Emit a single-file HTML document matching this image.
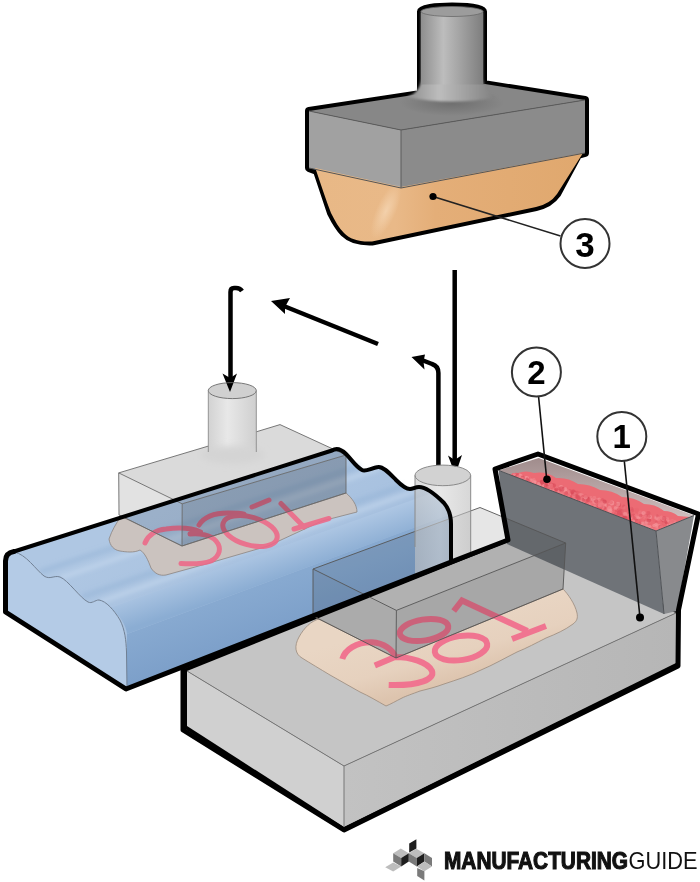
<!DOCTYPE html>
<html><head><meta charset="utf-8">
<style>
html,body{margin:0;padding:0;background:#fff;}
body{width:700px;height:882px;overflow:hidden;}
svg{display:block;}
</style></head>
<body>
<svg width="700" height="882" viewBox="0 0 700 882">
<defs>
  <linearGradient id="cylG" x1="0" x2="1" y1="0" y2="0">
    <stop offset="0" stop-color="#8e8e8e"/>
    <stop offset="0.36" stop-color="#bdbdbd"/>
    <stop offset="0.6" stop-color="#a6a6a6"/>
    <stop offset="1" stop-color="#7e7e7e"/>
  </linearGradient>
  <linearGradient id="orG" x1="0" x2="1" y1="0" y2="0">
    <stop offset="0" stop-color="#e8b886"/>
    <stop offset="0.3" stop-color="#e9b988"/>
    <stop offset="0.45" stop-color="#e4ae78"/>
    <stop offset="1" stop-color="#e0a86e"/>
  </linearGradient>
  <linearGradient id="gcylG" x1="0" x2="1" y1="0" y2="0">
    <stop offset="0" stop-color="#d2d2d2"/>
    <stop offset="0.4" stop-color="#e8e8e8"/>
    <stop offset="1" stop-color="#cfcfcf"/>
  </linearGradient>
  <linearGradient id="blueFront" x1="0" x2="0" y1="0" y2="1">
    <stop offset="0" stop-color="#9ab8de"/>
    <stop offset="1" stop-color="#7fa3d0"/>
  </linearGradient>
  <linearGradient id="baseR" x1="0" x2="1" y1="0" y2="0">
    <stop offset="0" stop-color="#c2c2c2"/>
    <stop offset="1" stop-color="#b6b6b6"/>
  </linearGradient>
  <linearGradient id="innerG" x1="0" x2="0" y1="0" y2="1">
    <stop offset="0" stop-color="#a08c8c"/>
    <stop offset="1" stop-color="#d8c8c8"/>
  </linearGradient>
  <linearGradient id="redG" x1="0" x2="1" y1="0" y2="0">
    <stop offset="0" stop-color="#e85a64"/>
    <stop offset="1" stop-color="#ec6670"/>
  </linearGradient>
  <filter id="blur05" x="-10%" y="-10%" width="120%" height="120%"><feGaussianBlur stdDeviation="0.8"/></filter>
  <filter id="blur2" x="-20%" y="-20%" width="140%" height="140%"><feGaussianBlur stdDeviation="2"/></filter>
  <filter id="blur3" x="-20%" y="-50%" width="140%" height="200%"><feGaussianBlur stdDeviation="3"/></filter>
</defs>

<!-- ============ PRESS ============ -->
<g id="press">
  <path d="M309 111 L421 94 L421 11.5 A31 5 0 0 1 483 11.5 L483 84 L585 100 L585 153 L578 155 L557 194 Q550 204 536 207 L372 241.5 C358 242 350 239 344 233 C339 228 335 221 331 213 L317 171 L309 168 Z"
        fill="#000" stroke="#000" stroke-width="8" stroke-linejoin="round"/>
  <polygon points="309,111 485,84 585,100 401,130" fill="#878787"/>
  <radialGradient id="cylShadow" cx="0.5" cy="0.5" r="0.5"><stop offset="0" stop-color="#5a5a5a" stop-opacity="0.55"/><stop offset="1" stop-color="#5a5a5a" stop-opacity="0"/></radialGradient>
  <ellipse cx="452" cy="103" rx="52" ry="13" fill="url(#cylShadow)"/>
  <polygon points="309,111 401,130 401,188 309,168" fill="#a1a1a1"/>
  <polygon points="401,130 585,100 585,153 401,188" fill="#8b8b8b"/>
  <path d="M315 168 L401 187 L583 153 L557 194 Q550 204 536 207 L372 241.5 C358 242 350 239 344 233 C339 228 335 221 331 213 C326 200 321 185 316 170 Z" fill="url(#orG)"/>
  <radialGradient id="orHi" cx="0.5" cy="0.5" r="0.5"><stop offset="0" stop-color="#f8dcbc" stop-opacity="0.9"/><stop offset="1" stop-color="#f8dcbc" stop-opacity="0"/></radialGradient>
  <ellipse cx="386" cy="211" rx="10" ry="30" fill="url(#orHi)" opacity="0.75" transform="rotate(24 386 211)"/>
  <path d="M421 11.5 L421 78 Q421 92 407 97 Q452 106 497 97 Q483 92 483 78 L483 11.5 Z" fill="url(#cylG)" filter="url(#blur05)"/>
  <rect x="421" y="11.5" width="62" height="73" fill="url(#cylG)"/>
  <ellipse cx="452" cy="11.5" rx="31" ry="5" fill="#9c9c9c" stroke="#6a6a6a" stroke-width="0.8"/>
  <path d="M309 111 L401 130 L585 100" fill="none" stroke="#5c5c5c" stroke-width="1"/>
  <path d="M401 130 L401 188" fill="none" stroke="#5c5c5c" stroke-width="1"/>
  <path d="M309 168 L401 188 L585 153" fill="none" stroke="#555" stroke-width="1"/>
</g>

<!-- label 3 -->
<line x1="433" y1="196.5" x2="560.5" y2="236" stroke="#222" stroke-width="1.6"/>
<circle cx="433" cy="196.5" r="3.6" fill="#000"/>
<circle cx="585" cy="243.5" r="24.5" fill="#fff" stroke="#333" stroke-width="2"/>
<text x="585" y="256.5" text-anchor="middle" font-family="Liberation Sans" font-weight="bold" font-size="35" fill="#000">3</text>

<!-- ============ ARROWS ============ -->
<g fill="none" stroke="#000" stroke-width="4.5">
  <path d="M242 291 Q240 288 236 288 L234 288 Q230.5 288 230.5 292 L230.5 384"/>
  <path d="M378 344 L280 304.5"/>
  <path d="M438.4 471 L438.4 373 Q438.4 366 432 364 L418 358.5"/>
  <path d="M454.7 270 L454.7 466"/>
</g>
<g fill="#000">
  <path d="M230 392 L222.5 373.5 L230.2 378 L237 373.5 Z"/>
  <path d="M271 301 L290 298 L285 307 L285 314 Z"/>
  <path d="M411.5 357 L425 354.5 L423.5 361.5 L424.5 369.5 Z"/>
  <path d="M455.3 475 L448 455.5 L454.7 460 L462 455 Z"/>
</g>

<!-- ============ BASE ============ -->
<g id="base">
  <path d="M187 671 L508 542 L676 613 L676 663 L344 827 L187 726 Z" fill="#000" stroke="#000" stroke-width="7" stroke-linejoin="round"/>
  
  <polygon points="187,671 508,542 676,613 344,766" fill="#c5c5c5"/>
  <polygon points="187,671 344,766 344,827 187,726" fill="#d0d0d0"/>
  <polygon points="344,766 676,613 676,663 344,827" fill="url(#baseR)"/>
  <path d="M187 671 L344 766 L676 613 M344 766 L344 827" stroke="#777" stroke-width="1" fill="none"/>
</g>

<!-- ============ CONTAINER ============ -->
<g id="container">
  
  <polygon points="498.6,470.4 538.7,458 694,515.5 656,531" fill="url(#innerG)"/>
  <clipPath id="redClip"><path d="M510 475.5 Q513 472 518 473 Q526 470 534 473 Q546 471 556 478 Q568 477 578 484 Q590 484 600 490 Q612 490 622 497 Q634 497 644 504 Q656 504 664 511 Q672 511 678 516 L690 517 L656 531 Z"/></clipPath>
  <g clip-path="url(#redClip)">
    <rect x="495" y="455" width="200" height="80" fill="#ec6b74"/>
    <circle cx="561.1" cy="488.4" r="2.2" fill="#f2868c" opacity="0.6"/>
    <circle cx="645.6" cy="513.5" r="2.1" fill="#f07c84" opacity="0.6"/>
    <circle cx="542.5" cy="482.3" r="1.9" fill="#f59a9e" opacity="0.6"/>
    <circle cx="521.4" cy="477.3" r="2.4" fill="#f2868c" opacity="0.6"/>
    <circle cx="667.1" cy="529.4" r="2.1" fill="#f2868c" opacity="0.6"/>
    <circle cx="604.1" cy="504.5" r="2.6" fill="#f2868c" opacity="0.6"/>
    <circle cx="600.6" cy="500.4" r="1.9" fill="#f07c84" opacity="0.6"/>
    <circle cx="526.0" cy="478.3" r="2.4" fill="#f59a9e" opacity="0.6"/>
    <circle cx="523.5" cy="478.7" r="1.6" fill="#f2868c" opacity="0.6"/>
    <circle cx="599.1" cy="499.1" r="1.5" fill="#f59a9e" opacity="0.6"/>
    <circle cx="590.4" cy="501.4" r="2.3" fill="#ea6670" opacity="0.6"/>
    <circle cx="605.5" cy="505.7" r="1.8" fill="#f59a9e" opacity="0.6"/>
    <circle cx="624.8" cy="509.3" r="2.1" fill="#f07c84" opacity="0.6"/>
    <circle cx="590.2" cy="499.4" r="1.9" fill="#f07c84" opacity="0.6"/>
    <circle cx="672.6" cy="522.1" r="1.9" fill="#e05563" opacity="0.6"/>
    <circle cx="531.8" cy="481.1" r="1.4" fill="#d94a58" opacity="0.6"/>
    <circle cx="519.2" cy="477.1" r="2.3" fill="#e05563" opacity="0.6"/>
    <circle cx="563.8" cy="490.8" r="2.0" fill="#ea6670" opacity="0.6"/>
    <circle cx="517.7" cy="474.8" r="1.7" fill="#d94a58" opacity="0.6"/>
    <circle cx="618.9" cy="505.0" r="2.2" fill="#d94a58" opacity="0.6"/>
    <circle cx="604.3" cy="507.9" r="1.9" fill="#d94a58" opacity="0.6"/>
    <circle cx="571.6" cy="496.2" r="1.4" fill="#ea6670" opacity="0.6"/>
    <circle cx="566.4" cy="493.9" r="2.0" fill="#f59a9e" opacity="0.6"/>
    <circle cx="636.6" cy="511.3" r="1.7" fill="#ea6670" opacity="0.6"/>
    <circle cx="661.9" cy="525.3" r="1.6" fill="#ea6670" opacity="0.6"/>
    <circle cx="599.4" cy="508.5" r="2.4" fill="#f07c84" opacity="0.6"/>
    <circle cx="553.3" cy="487.9" r="1.8" fill="#ea6670" opacity="0.6"/>
    <circle cx="668.8" cy="521.5" r="1.6" fill="#f59a9e" opacity="0.6"/>
    <circle cx="617.9" cy="504.1" r="2.4" fill="#f59a9e" opacity="0.6"/>
    <circle cx="550.7" cy="484.2" r="1.9" fill="#e05563" opacity="0.6"/>
    <circle cx="609.7" cy="505.4" r="1.6" fill="#f07c84" opacity="0.6"/>
    <circle cx="667.5" cy="530.0" r="2.3" fill="#ea6670" opacity="0.6"/>
    <circle cx="658.9" cy="529.0" r="2.4" fill="#f07c84" opacity="0.6"/>
    <circle cx="572.7" cy="494.2" r="1.5" fill="#d94a58" opacity="0.6"/>
    <circle cx="574.1" cy="492.7" r="2.6" fill="#ea6670" opacity="0.6"/>
    <circle cx="533.6" cy="480.9" r="1.5" fill="#f2868c" opacity="0.6"/>
    <circle cx="602.4" cy="505.6" r="2.5" fill="#f07c84" opacity="0.6"/>
    <circle cx="510.3" cy="475.1" r="2.1" fill="#f59a9e" opacity="0.6"/>
    <circle cx="613.8" cy="514.8" r="2.1" fill="#ea6670" opacity="0.6"/>
    <circle cx="526.9" cy="481.2" r="2.6" fill="#ea6670" opacity="0.6"/>
    <circle cx="587.7" cy="498.2" r="1.6" fill="#d94a58" opacity="0.6"/>
    <circle cx="564.2" cy="490.3" r="2.4" fill="#f59a9e" opacity="0.6"/>
    <circle cx="593.8" cy="499.0" r="2.5" fill="#e05563" opacity="0.6"/>
    <circle cx="530.9" cy="481.1" r="1.4" fill="#f07c84" opacity="0.6"/>
    <circle cx="556.7" cy="490.7" r="1.5" fill="#e05563" opacity="0.6"/>
    <circle cx="594.1" cy="506.8" r="1.8" fill="#f59a9e" opacity="0.6"/>
    <circle cx="596.5" cy="506.3" r="1.8" fill="#f59a9e" opacity="0.6"/>
    <circle cx="610.2" cy="511.4" r="2.3" fill="#f59a9e" opacity="0.6"/>
    <circle cx="643.0" cy="523.8" r="2.3" fill="#f59a9e" opacity="0.6"/>
    <circle cx="540.0" cy="483.9" r="2.3" fill="#f2868c" opacity="0.6"/>
    <circle cx="640.3" cy="517.6" r="1.6" fill="#f07c84" opacity="0.6"/>
    <circle cx="668.6" cy="526.7" r="2.5" fill="#e05563" opacity="0.6"/>
    <circle cx="668.4" cy="525.2" r="1.7" fill="#f59a9e" opacity="0.6"/>
    <circle cx="585.9" cy="497.9" r="2.0" fill="#f07c84" opacity="0.6"/>
    <circle cx="648.9" cy="520.6" r="2.2" fill="#d94a58" opacity="0.6"/>
    <circle cx="520.4" cy="478.0" r="2.5" fill="#d94a58" opacity="0.6"/>
    <circle cx="633.5" cy="515.4" r="1.6" fill="#d94a58" opacity="0.6"/>
    <circle cx="562.5" cy="494.0" r="2.6" fill="#ea6670" opacity="0.6"/>
    <circle cx="584.7" cy="501.6" r="1.5" fill="#f59a9e" opacity="0.6"/>
    <circle cx="534.9" cy="480.2" r="1.6" fill="#ea6670" opacity="0.6"/>
    <circle cx="643.1" cy="513.6" r="2.4" fill="#ea6670" opacity="0.6"/>
    <circle cx="617.7" cy="508.4" r="2.1" fill="#f59a9e" opacity="0.6"/>
    <circle cx="509.6" cy="474.6" r="2.3" fill="#f2868c" opacity="0.6"/>
    <circle cx="595.5" cy="507.6" r="1.9" fill="#f59a9e" opacity="0.6"/>
    <circle cx="646.4" cy="515.6" r="1.7" fill="#e05563" opacity="0.6"/>
    <circle cx="591.2" cy="504.1" r="1.8" fill="#f07c84" opacity="0.6"/>
    <circle cx="577.2" cy="493.2" r="2.5" fill="#e05563" opacity="0.6"/>
    <circle cx="658.6" cy="527.0" r="2.4" fill="#f07c84" opacity="0.6"/>
    <circle cx="577.5" cy="500.6" r="2.0" fill="#f07c84" opacity="0.6"/>
    <circle cx="531.8" cy="481.2" r="2.4" fill="#f59a9e" opacity="0.6"/>
    <circle cx="609.5" cy="510.9" r="1.6" fill="#f59a9e" opacity="0.6"/>
    <circle cx="586.5" cy="502.0" r="2.1" fill="#e05563" opacity="0.6"/>
    <circle cx="622.0" cy="512.2" r="2.0" fill="#f2868c" opacity="0.6"/>
    <circle cx="656.1" cy="516.1" r="1.6" fill="#f2868c" opacity="0.6"/>
    <circle cx="637.3" cy="517.1" r="2.1" fill="#f2868c" opacity="0.6"/>
    <circle cx="581.4" cy="499.1" r="2.0" fill="#f07c84" opacity="0.6"/>
    <circle cx="539.9" cy="482.6" r="2.0" fill="#ea6670" opacity="0.6"/>
    <circle cx="592.3" cy="499.0" r="2.0" fill="#e05563" opacity="0.6"/>
    <circle cx="662.9" cy="532.4" r="1.6" fill="#ea6670" opacity="0.6"/>
    <circle cx="529.3" cy="478.5" r="1.9" fill="#f2868c" opacity="0.6"/>
    <circle cx="620.1" cy="510.2" r="1.7" fill="#e05563" opacity="0.6"/>
    <circle cx="639.3" cy="523.6" r="1.6" fill="#d94a58" opacity="0.6"/>
    <circle cx="615.4" cy="507.9" r="1.7" fill="#f59a9e" opacity="0.6"/>
    <circle cx="670.5" cy="523.3" r="2.5" fill="#ea6670" opacity="0.6"/>
    <circle cx="656.4" cy="517.9" r="2.2" fill="#f59a9e" opacity="0.6"/>
    <circle cx="533.4" cy="481.4" r="2.0" fill="#e05563" opacity="0.6"/>
    <circle cx="577.6" cy="495.4" r="1.5" fill="#e05563" opacity="0.6"/>
    <circle cx="509.3" cy="473.7" r="1.9" fill="#f2868c" opacity="0.6"/>
    <circle cx="571.3" cy="494.8" r="1.8" fill="#f2868c" opacity="0.6"/>
    <circle cx="525.2" cy="480.9" r="1.7" fill="#f2868c" opacity="0.6"/>
    <circle cx="520.3" cy="476.3" r="2.5" fill="#f59a9e" opacity="0.6"/>
    <circle cx="552.0" cy="485.4" r="1.9" fill="#d94a58" opacity="0.6"/>
    <circle cx="645.2" cy="516.0" r="1.6" fill="#f07c84" opacity="0.6"/>
    <circle cx="603.0" cy="507.7" r="1.5" fill="#f2868c" opacity="0.6"/>
    <circle cx="641.9" cy="513.8" r="2.5" fill="#e05563" opacity="0.6"/>
    <circle cx="665.5" cy="528.9" r="2.4" fill="#f2868c" opacity="0.6"/>
    <circle cx="609.4" cy="504.1" r="1.7" fill="#f2868c" opacity="0.6"/>
    <circle cx="583.1" cy="497.0" r="2.1" fill="#e05563" opacity="0.6"/>
    <circle cx="611.7" cy="502.6" r="2.3" fill="#f2868c" opacity="0.6"/>
    <circle cx="670.8" cy="524.1" r="1.6" fill="#e05563" opacity="0.6"/>
    <circle cx="612.9" cy="509.1" r="1.6" fill="#ea6670" opacity="0.6"/>
    <circle cx="591.0" cy="497.9" r="1.8" fill="#f2868c" opacity="0.6"/>
    <circle cx="675.1" cy="521.4" r="1.4" fill="#f07c84" opacity="0.6"/>
    <circle cx="599.7" cy="500.7" r="2.0" fill="#ea6670" opacity="0.6"/>
    <circle cx="524.1" cy="480.0" r="1.9" fill="#ea6670" opacity="0.6"/>
    <circle cx="598.8" cy="508.3" r="2.6" fill="#e05563" opacity="0.6"/>
    <circle cx="622.9" cy="518.6" r="1.8" fill="#d94a58" opacity="0.6"/>
    <circle cx="629.9" cy="509.4" r="2.6" fill="#f2868c" opacity="0.6"/>
    <circle cx="648.3" cy="513.1" r="2.2" fill="#e05563" opacity="0.6"/>
    <circle cx="579.2" cy="493.1" r="2.2" fill="#ea6670" opacity="0.6"/>
    <circle cx="654.0" cy="525.5" r="1.7" fill="#f59a9e" opacity="0.6"/>
    <circle cx="623.8" cy="506.2" r="1.6" fill="#e05563" opacity="0.6"/>
    <circle cx="581.8" cy="495.9" r="2.6" fill="#f07c84" opacity="0.6"/>
    <circle cx="561.0" cy="487.4" r="2.5" fill="#f59a9e" opacity="0.6"/>
    <circle cx="566.6" cy="488.8" r="1.9" fill="#ea6670" opacity="0.6"/>
    <circle cx="553.4" cy="489.6" r="1.7" fill="#f2868c" opacity="0.6"/>
    <circle cx="521.4" cy="479.0" r="1.6" fill="#f07c84" opacity="0.6"/>
    <circle cx="513.1" cy="473.2" r="1.8" fill="#f59a9e" opacity="0.6"/>
    <circle cx="520.4" cy="479.2" r="2.4" fill="#f59a9e" opacity="0.6"/>
    <circle cx="617.8" cy="513.2" r="2.5" fill="#ea6670" opacity="0.6"/>
    <circle cx="635.9" cy="519.8" r="2.0" fill="#e05563" opacity="0.6"/>
    <circle cx="629.1" cy="516.2" r="1.5" fill="#d94a58" opacity="0.6"/>
    <circle cx="657.6" cy="526.0" r="2.3" fill="#f07c84" opacity="0.6"/>
    <circle cx="529.7" cy="480.6" r="2.0" fill="#f2868c" opacity="0.6"/>
    <circle cx="646.5" cy="521.4" r="2.5" fill="#d94a58" opacity="0.6"/>
    <circle cx="668.5" cy="530.1" r="1.5" fill="#f2868c" opacity="0.6"/>
    <circle cx="528.6" cy="479.4" r="1.5" fill="#ea6670" opacity="0.6"/>
    <circle cx="600.9" cy="506.1" r="2.2" fill="#d94a58" opacity="0.6"/>
    <circle cx="547.6" cy="485.0" r="1.9" fill="#f2868c" opacity="0.6"/>
    <circle cx="633.2" cy="515.7" r="2.0" fill="#d94a58" opacity="0.6"/>
    <circle cx="595.4" cy="505.5" r="2.0" fill="#f2868c" opacity="0.6"/>
    <circle cx="649.8" cy="517.0" r="2.3" fill="#f59a9e" opacity="0.6"/>
    <circle cx="631.8" cy="521.9" r="2.0" fill="#ea6670" opacity="0.6"/>
    <circle cx="519.0" cy="478.5" r="1.7" fill="#f2868c" opacity="0.6"/>
    <circle cx="610.9" cy="509.8" r="1.5" fill="#f59a9e" opacity="0.6"/>
    <circle cx="562.4" cy="492.8" r="2.2" fill="#f07c84" opacity="0.6"/>
    <circle cx="602.5" cy="499.5" r="1.5" fill="#e05563" opacity="0.6"/>
    <circle cx="671.3" cy="521.4" r="1.7" fill="#ea6670" opacity="0.6"/>
    <circle cx="555.4" cy="489.3" r="2.0" fill="#ea6670" opacity="0.6"/>
    <circle cx="636.4" cy="524.0" r="2.1" fill="#e05563" opacity="0.6"/>
    <circle cx="672.3" cy="536.7" r="1.4" fill="#ea6670" opacity="0.6"/>
    <circle cx="519.0" cy="476.9" r="2.6" fill="#e05563" opacity="0.6"/>
    <circle cx="571.8" cy="498.4" r="2.5" fill="#f2868c" opacity="0.6"/>
    <circle cx="604.9" cy="501.8" r="2.0" fill="#e05563" opacity="0.6"/>
    <circle cx="528.5" cy="481.6" r="2.0" fill="#f2868c" opacity="0.6"/>
    <circle cx="625.6" cy="509.3" r="2.5" fill="#ea6670" opacity="0.6"/>
    <circle cx="573.0" cy="492.1" r="2.5" fill="#d94a58" opacity="0.6"/>
    <circle cx="582.6" cy="496.5" r="1.6" fill="#e05563" opacity="0.6"/>
    <circle cx="569.9" cy="490.9" r="1.8" fill="#e05563" opacity="0.6"/>
    <circle cx="633.6" cy="520.7" r="1.5" fill="#f59a9e" opacity="0.6"/>
    <circle cx="627.2" cy="519.2" r="1.7" fill="#e05563" opacity="0.6"/>
    <circle cx="517.0" cy="475.8" r="2.4" fill="#f2868c" opacity="0.6"/>
    <circle cx="567.3" cy="492.6" r="1.7" fill="#f2868c" opacity="0.6"/>
    <circle cx="553.7" cy="485.4" r="2.2" fill="#d94a58" opacity="0.6"/>
    <circle cx="665.1" cy="522.1" r="1.7" fill="#f07c84" opacity="0.6"/>
    <circle cx="559.7" cy="492.8" r="2.3" fill="#ea6670" opacity="0.6"/>
    <circle cx="656.3" cy="528.6" r="2.2" fill="#f07c84" opacity="0.6"/>
    <circle cx="599.4" cy="506.6" r="1.5" fill="#d94a58" opacity="0.6"/>
    <circle cx="575.9" cy="497.2" r="1.6" fill="#e05563" opacity="0.6"/>
    <circle cx="588.5" cy="504.7" r="2.1" fill="#f59a9e" opacity="0.6"/>
    <circle cx="586.3" cy="498.1" r="1.8" fill="#d94a58" opacity="0.6"/>
    <circle cx="631.6" cy="517.2" r="1.9" fill="#f59a9e" opacity="0.6"/>
    <circle cx="557.1" cy="490.2" r="1.9" fill="#f59a9e" opacity="0.6"/>
    <circle cx="615.3" cy="504.1" r="2.0" fill="#ea6670" opacity="0.6"/>
    <circle cx="599.6" cy="503.7" r="1.8" fill="#ea6670" opacity="0.6"/>
    <circle cx="578.7" cy="497.5" r="1.7" fill="#f59a9e" opacity="0.6"/>
    <circle cx="564.1" cy="488.8" r="1.7" fill="#e05563" opacity="0.6"/>
    <circle cx="643.6" cy="514.6" r="1.4" fill="#ea6670" opacity="0.6"/>
    <circle cx="571.1" cy="496.7" r="1.7" fill="#e05563" opacity="0.6"/>
    <circle cx="563.5" cy="488.4" r="1.7" fill="#e05563" opacity="0.6"/>
    <circle cx="527.4" cy="479.7" r="2.2" fill="#f59a9e" opacity="0.6"/>
    <circle cx="521.7" cy="479.5" r="1.9" fill="#d94a58" opacity="0.6"/>
    <circle cx="581.8" cy="502.6" r="2.4" fill="#f2868c" opacity="0.6"/>
    <circle cx="527.6" cy="479.4" r="2.3" fill="#ea6670" opacity="0.6"/>
    <circle cx="670.6" cy="528.1" r="1.5" fill="#f07c84" opacity="0.6"/>
    <circle cx="651.4" cy="529.4" r="1.7" fill="#f2868c" opacity="0.6"/>
    <circle cx="544.0" cy="483.1" r="2.6" fill="#f2868c" opacity="0.6"/>
    <circle cx="666.1" cy="530.6" r="2.2" fill="#ea6670" opacity="0.6"/>
    <circle cx="520.5" cy="478.5" r="1.4" fill="#f59a9e" opacity="0.6"/>
    <circle cx="545.5" cy="488.6" r="2.2" fill="#e05563" opacity="0.6"/>
    <circle cx="669.6" cy="530.2" r="2.0" fill="#ea6670" opacity="0.6"/>
    <circle cx="624.8" cy="507.5" r="1.5" fill="#f07c84" opacity="0.6"/>
    <circle cx="666.4" cy="521.5" r="1.7" fill="#f07c84" opacity="0.6"/>
    <circle cx="506.2" cy="472.6" r="2.6" fill="#e05563" opacity="0.6"/>
    <circle cx="669.0" cy="530.3" r="2.5" fill="#ea6670" opacity="0.6"/>
    <circle cx="595.5" cy="503.3" r="1.4" fill="#ea6670" opacity="0.6"/>
    <circle cx="625.8" cy="510.5" r="1.4" fill="#ea6670" opacity="0.6"/>
    <circle cx="656.4" cy="525.9" r="1.5" fill="#f59a9e" opacity="0.6"/>
    <circle cx="619.5" cy="516.5" r="1.7" fill="#f2868c" opacity="0.6"/>
    <circle cx="624.3" cy="515.6" r="1.8" fill="#ea6670" opacity="0.6"/>
    <circle cx="539.7" cy="485.6" r="2.3" fill="#f07c84" opacity="0.6"/>
    <circle cx="517.5" cy="476.3" r="1.6" fill="#f59a9e" opacity="0.6"/>
    <circle cx="545.2" cy="484.0" r="2.3" fill="#e05563" opacity="0.6"/>
    <circle cx="524.5" cy="479.3" r="2.1" fill="#f59a9e" opacity="0.6"/>
    <circle cx="588.5" cy="504.7" r="1.5" fill="#f07c84" opacity="0.6"/>
    <circle cx="530.9" cy="480.3" r="1.7" fill="#f07c84" opacity="0.6"/>
    <circle cx="530.1" cy="478.4" r="1.5" fill="#ea6670" opacity="0.6"/>
    <circle cx="582.4" cy="500.5" r="1.8" fill="#f2868c" opacity="0.6"/>
    <circle cx="675.6" cy="537.9" r="1.8" fill="#f59a9e" opacity="0.6"/>
    <circle cx="616.9" cy="510.4" r="2.0" fill="#e05563" opacity="0.6"/>
    <circle cx="619.0" cy="509.2" r="1.8" fill="#e05563" opacity="0.6"/>
    <circle cx="581.2" cy="494.2" r="1.5" fill="#f2868c" opacity="0.6"/>
    <circle cx="565.7" cy="496.5" r="1.5" fill="#f59a9e" opacity="0.6"/>
    <circle cx="570.6" cy="496.7" r="1.8" fill="#ea6670" opacity="0.6"/>
    <circle cx="520.9" cy="478.4" r="1.6" fill="#f07c84" opacity="0.6"/>
    <circle cx="662.3" cy="520.3" r="1.8" fill="#ea6670" opacity="0.6"/>
    <circle cx="511.1" cy="473.9" r="2.4" fill="#ea6670" opacity="0.6"/>
    <circle cx="512.9" cy="473.2" r="1.5" fill="#f2868c" opacity="0.6"/>
    <circle cx="549.7" cy="488.9" r="2.5" fill="#e05563" opacity="0.6"/>
    <circle cx="567.7" cy="492.0" r="2.5" fill="#f2868c" opacity="0.6"/>
    <circle cx="550.6" cy="489.1" r="1.8" fill="#e05563" opacity="0.6"/>
    <circle cx="556.6" cy="491.2" r="2.1" fill="#d94a58" opacity="0.6"/>
    <circle cx="666.9" cy="519.5" r="2.4" fill="#f2868c" opacity="0.6"/>
    <circle cx="586.8" cy="504.5" r="2.5" fill="#ea6670" opacity="0.6"/>
    <circle cx="640.3" cy="524.2" r="2.4" fill="#f59a9e" opacity="0.6"/>
    <circle cx="663.8" cy="520.5" r="2.4" fill="#d94a58" opacity="0.6"/>
    <circle cx="557.6" cy="491.4" r="1.6" fill="#f59a9e" opacity="0.6"/>
    <circle cx="561.7" cy="489.9" r="1.8" fill="#f07c84" opacity="0.6"/>
    <circle cx="519.4" cy="475.8" r="2.3" fill="#f59a9e" opacity="0.6"/>
    <circle cx="575.3" cy="497.3" r="2.0" fill="#f07c84" opacity="0.6"/>
    <circle cx="561.4" cy="495.0" r="2.5" fill="#f2868c" opacity="0.6"/>
    <circle cx="551.0" cy="484.8" r="1.5" fill="#ea6670" opacity="0.6"/>
    <circle cx="674.0" cy="538.0" r="1.6" fill="#f59a9e" opacity="0.6"/>
    <circle cx="576.9" cy="497.6" r="2.2" fill="#d94a58" opacity="0.6"/>
    <circle cx="597.6" cy="506.6" r="2.3" fill="#e05563" opacity="0.6"/>
    <circle cx="555.9" cy="489.9" r="1.8" fill="#d94a58" opacity="0.6"/>
    <circle cx="550.3" cy="487.0" r="1.6" fill="#f59a9e" opacity="0.6"/>
    <circle cx="532.1" cy="483.3" r="2.1" fill="#e05563" opacity="0.6"/>
    <circle cx="517.0" cy="475.2" r="1.7" fill="#f07c84" opacity="0.6"/>
    <circle cx="545.3" cy="487.8" r="2.2" fill="#f2868c" opacity="0.6"/>
    <circle cx="523.4" cy="478.2" r="2.4" fill="#ea6670" opacity="0.6"/>
    <circle cx="661.4" cy="517.4" r="1.8" fill="#f2868c" opacity="0.6"/>
    <circle cx="514.6" cy="475.7" r="2.4" fill="#f59a9e" opacity="0.6"/>
    <circle cx="664.1" cy="523.9" r="2.4" fill="#ea6670" opacity="0.6"/>
    <circle cx="608.5" cy="510.6" r="2.2" fill="#f2868c" opacity="0.6"/>
    <circle cx="524.0" cy="479.0" r="2.1" fill="#f59a9e" opacity="0.6"/>
    <circle cx="512.4" cy="474.0" r="1.5" fill="#e05563" opacity="0.6"/>
    <circle cx="512.5" cy="475.4" r="2.5" fill="#f2868c" opacity="0.6"/>
    <circle cx="645.2" cy="518.3" r="1.8" fill="#f07c84" opacity="0.6"/>
    <circle cx="559.1" cy="488.2" r="2.4" fill="#f07c84" opacity="0.6"/>
    <circle cx="588.2" cy="499.4" r="2.4" fill="#d94a58" opacity="0.6"/>
    <circle cx="599.5" cy="505.8" r="1.5" fill="#f59a9e" opacity="0.6"/>
    <circle cx="573.6" cy="493.3" r="2.6" fill="#d94a58" opacity="0.6"/>
    <circle cx="558.3" cy="493.6" r="1.8" fill="#f07c84" opacity="0.6"/>
    <circle cx="656.2" cy="522.0" r="1.4" fill="#e05563" opacity="0.6"/>
    <circle cx="615.6" cy="508.2" r="1.9" fill="#f2868c" opacity="0.6"/>
    <circle cx="579.8" cy="494.2" r="1.5" fill="#f2868c" opacity="0.6"/>
    <circle cx="575.1" cy="499.4" r="2.0" fill="#f59a9e" opacity="0.6"/>
    <circle cx="528.1" cy="477.7" r="1.6" fill="#ea6670" opacity="0.6"/>
    <circle cx="521.1" cy="478.1" r="1.8" fill="#f07c84" opacity="0.6"/>
    <circle cx="535.2" cy="481.5" r="1.6" fill="#f59a9e" opacity="0.6"/>
    <circle cx="663.3" cy="519.1" r="2.0" fill="#f59a9e" opacity="0.6"/>
    <circle cx="557.3" cy="492.4" r="1.5" fill="#ea6670" opacity="0.6"/>
    <circle cx="559.5" cy="491.4" r="2.2" fill="#f2868c" opacity="0.6"/>
    <circle cx="659.7" cy="526.6" r="2.4" fill="#f59a9e" opacity="0.6"/>
    <circle cx="614.9" cy="513.9" r="2.1" fill="#f07c84" opacity="0.6"/>
    <circle cx="649.9" cy="526.5" r="1.6" fill="#f59a9e" opacity="0.6"/>
    <circle cx="513.1" cy="476.4" r="1.6" fill="#e05563" opacity="0.6"/>
    <circle cx="526.9" cy="478.3" r="2.3" fill="#f59a9e" opacity="0.6"/>
    <circle cx="513.0" cy="475.0" r="2.3" fill="#f2868c" opacity="0.6"/>
    <circle cx="619.5" cy="508.7" r="1.9" fill="#ea6670" opacity="0.6"/>
    <circle cx="599.5" cy="505.6" r="1.8" fill="#ea6670" opacity="0.6"/>
    <circle cx="558.4" cy="488.3" r="1.9" fill="#e05563" opacity="0.6"/>
    <circle cx="582.0" cy="497.6" r="1.4" fill="#f07c84" opacity="0.6"/>
    <circle cx="673.6" cy="528.7" r="1.9" fill="#f07c84" opacity="0.6"/>
    <circle cx="638.6" cy="516.8" r="1.6" fill="#ea6670" opacity="0.6"/>
    <circle cx="574.1" cy="491.6" r="1.8" fill="#e05563" opacity="0.6"/>
    <circle cx="521.6" cy="477.5" r="2.0" fill="#f2868c" opacity="0.6"/>
    <circle cx="512.9" cy="473.5" r="2.5" fill="#e05563" opacity="0.6"/>
    <circle cx="638.2" cy="517.5" r="1.5" fill="#f07c84" opacity="0.6"/>
    <circle cx="658.1" cy="526.6" r="2.3" fill="#f2868c" opacity="0.6"/>
    <circle cx="651.7" cy="529.9" r="2.3" fill="#f2868c" opacity="0.6"/>
    <circle cx="538.9" cy="486.4" r="2.0" fill="#f59a9e" opacity="0.6"/>
    <circle cx="622.6" cy="515.0" r="1.7" fill="#e05563" opacity="0.6"/>
    <circle cx="609.8" cy="504.6" r="1.8" fill="#f07c84" opacity="0.6"/>
    <circle cx="552.7" cy="490.5" r="1.6" fill="#f07c84" opacity="0.6"/>
    <circle cx="669.9" cy="527.7" r="2.1" fill="#f07c84" opacity="0.6"/>
    <circle cx="592.0" cy="499.7" r="1.4" fill="#f59a9e" opacity="0.6"/>
    <circle cx="574.6" cy="497.0" r="1.7" fill="#e05563" opacity="0.6"/>
    <circle cx="658.2" cy="518.6" r="2.3" fill="#f2868c" opacity="0.6"/>
    <circle cx="636.6" cy="510.1" r="2.4" fill="#ea6670" opacity="0.6"/>
    <circle cx="600.4" cy="505.4" r="2.5" fill="#f2868c" opacity="0.6"/>
    <circle cx="548.8" cy="487.2" r="2.4" fill="#d94a58" opacity="0.6"/>
    <circle cx="641.6" cy="514.9" r="2.6" fill="#f07c84" opacity="0.6"/>
    <circle cx="530.9" cy="480.0" r="1.5" fill="#f59a9e" opacity="0.6"/>
    <circle cx="536.0" cy="484.0" r="1.5" fill="#f07c84" opacity="0.6"/>
    <circle cx="549.1" cy="488.0" r="2.6" fill="#f07c84" opacity="0.6"/>
    <circle cx="663.8" cy="532.8" r="2.3" fill="#d94a58" opacity="0.6"/>
    <circle cx="511.7" cy="473.2" r="2.1" fill="#ea6670" opacity="0.6"/>
    <circle cx="577.0" cy="495.3" r="1.5" fill="#ea6670" opacity="0.6"/>
    <circle cx="544.6" cy="486.5" r="1.4" fill="#f2868c" opacity="0.6"/>
    <circle cx="602.4" cy="502.9" r="2.0" fill="#f07c84" opacity="0.6"/>
    <circle cx="544.1" cy="485.9" r="2.1" fill="#f59a9e" opacity="0.6"/>
    <circle cx="568.3" cy="496.4" r="1.6" fill="#f2868c" opacity="0.6"/>
    <circle cx="665.2" cy="522.0" r="1.6" fill="#f2868c" opacity="0.6"/>
    <circle cx="516.8" cy="474.7" r="2.2" fill="#e05563" opacity="0.6"/>
    <circle cx="574.3" cy="493.5" r="1.4" fill="#d94a58" opacity="0.6"/>
    <circle cx="645.5" cy="525.9" r="2.1" fill="#f07c84" opacity="0.6"/>
    <circle cx="581.4" cy="502.3" r="2.3" fill="#f59a9e" opacity="0.6"/>
    <circle cx="534.1" cy="479.3" r="1.5" fill="#f2868c" opacity="0.6"/>
    <circle cx="575.0" cy="493.5" r="1.5" fill="#f2868c" opacity="0.6"/>
    <circle cx="508.1" cy="473.3" r="2.5" fill="#f59a9e" opacity="0.6"/>
    <circle cx="576.2" cy="496.4" r="2.2" fill="#d94a58" opacity="0.6"/>
    <circle cx="615.1" cy="513.5" r="1.6" fill="#e05563" opacity="0.6"/>
    <circle cx="516.8" cy="476.6" r="2.6" fill="#d94a58" opacity="0.6"/>
    <circle cx="639.1" cy="520.8" r="1.4" fill="#ea6670" opacity="0.6"/>
    <circle cx="632.7" cy="514.9" r="2.3" fill="#ea6670" opacity="0.6"/>
    <circle cx="535.8" cy="485.3" r="1.7" fill="#d94a58" opacity="0.6"/>
    <circle cx="512.6" cy="474.1" r="2.3" fill="#d94a58" opacity="0.6"/>
    <circle cx="666.3" cy="522.7" r="1.5" fill="#d94a58" opacity="0.6"/>
    <circle cx="600.1" cy="503.7" r="2.3" fill="#f07c84" opacity="0.6"/>
    <circle cx="671.2" cy="524.9" r="2.5" fill="#f59a9e" opacity="0.6"/>
    <circle cx="520.5" cy="477.4" r="1.6" fill="#f59a9e" opacity="0.6"/>
    <circle cx="649.1" cy="516.3" r="1.6" fill="#e05563" opacity="0.6"/>
    <circle cx="538.6" cy="482.9" r="2.1" fill="#ea6670" opacity="0.6"/>
    <circle cx="660.3" cy="527.0" r="2.2" fill="#d94a58" opacity="0.6"/>
    <circle cx="649.1" cy="521.6" r="2.0" fill="#f07c84" opacity="0.6"/>
    <circle cx="624.6" cy="517.6" r="1.9" fill="#d94a58" opacity="0.6"/>
    <circle cx="545.8" cy="488.4" r="2.3" fill="#ea6670" opacity="0.6"/>
    <circle cx="611.8" cy="503.1" r="2.5" fill="#f59a9e" opacity="0.6"/>
    <circle cx="511.6" cy="473.0" r="2.1" fill="#f59a9e" opacity="0.6"/>
    <circle cx="564.6" cy="489.4" r="1.4" fill="#f2868c" opacity="0.6"/>
    <circle cx="529.5" cy="481.1" r="1.5" fill="#f2868c" opacity="0.6"/>
    <circle cx="631.3" cy="508.8" r="2.1" fill="#e05563" opacity="0.6"/>
    <circle cx="539.9" cy="486.6" r="2.0" fill="#d94a58" opacity="0.6"/>
    <circle cx="517.2" cy="477.7" r="2.5" fill="#ea6670" opacity="0.6"/>
    <circle cx="524.2" cy="477.3" r="1.5" fill="#f2868c" opacity="0.6"/>
    <circle cx="667.4" cy="534.4" r="2.3" fill="#f2868c" opacity="0.6"/>
    <circle cx="646.3" cy="522.1" r="1.7" fill="#f2868c" opacity="0.6"/>
    <circle cx="528.6" cy="481.5" r="2.2" fill="#e05563" opacity="0.6"/>
    <circle cx="560.3" cy="490.3" r="1.4" fill="#e05563" opacity="0.6"/>
    <circle cx="664.1" cy="518.3" r="2.3" fill="#e05563" opacity="0.6"/>
    <circle cx="636.8" cy="518.3" r="2.0" fill="#e05563" opacity="0.6"/>
    <circle cx="611.1" cy="502.3" r="1.9" fill="#ea6670" opacity="0.6"/>
    <circle cx="594.2" cy="498.0" r="2.0" fill="#f2868c" opacity="0.6"/>
    <circle cx="597.4" cy="500.3" r="2.4" fill="#f2868c" opacity="0.6"/>
    <circle cx="603.7" cy="503.1" r="1.9" fill="#f07c84" opacity="0.6"/>
    <circle cx="540.3" cy="485.7" r="2.6" fill="#f2868c" opacity="0.6"/>
    <circle cx="565.1" cy="489.2" r="2.2" fill="#f59a9e" opacity="0.6"/>
    <circle cx="670.4" cy="529.9" r="2.5" fill="#f07c84" opacity="0.6"/>
    <circle cx="550.3" cy="490.5" r="1.7" fill="#f59a9e" opacity="0.6"/>
    <circle cx="665.5" cy="521.9" r="1.6" fill="#d94a58" opacity="0.6"/>
    <circle cx="636.4" cy="516.5" r="2.6" fill="#f07c84" opacity="0.6"/>
    <circle cx="639.8" cy="519.8" r="1.8" fill="#ea6670" opacity="0.6"/>
    <circle cx="663.8" cy="532.8" r="2.3" fill="#ea6670" opacity="0.6"/>
    <circle cx="657.0" cy="515.8" r="1.6" fill="#e05563" opacity="0.6"/>
    <circle cx="578.8" cy="497.6" r="1.6" fill="#d94a58" opacity="0.6"/>
    <circle cx="545.7" cy="485.7" r="2.0" fill="#d94a58" opacity="0.6"/>
    <circle cx="634.0" cy="518.0" r="1.8" fill="#e05563" opacity="0.6"/>
    <circle cx="594.7" cy="506.6" r="1.9" fill="#f07c84" opacity="0.6"/>
    <circle cx="632.1" cy="510.5" r="1.9" fill="#e05563" opacity="0.6"/>
    <circle cx="604.5" cy="501.4" r="2.0" fill="#d94a58" opacity="0.6"/>
    <circle cx="546.4" cy="484.1" r="1.8" fill="#d94a58" opacity="0.6"/>
    <circle cx="646.5" cy="522.0" r="2.3" fill="#f59a9e" opacity="0.6"/>
    <circle cx="628.9" cy="515.6" r="1.8" fill="#f59a9e" opacity="0.6"/>
    <circle cx="561.8" cy="488.9" r="2.6" fill="#d94a58" opacity="0.6"/>
    <circle cx="675.1" cy="523.7" r="2.2" fill="#f59a9e" opacity="0.6"/>
    <circle cx="571.3" cy="498.9" r="2.4" fill="#d94a58" opacity="0.6"/>
    <circle cx="556.6" cy="487.9" r="1.5" fill="#f2868c" opacity="0.6"/>
    <circle cx="553.7" cy="491.4" r="2.0" fill="#f2868c" opacity="0.6"/>
    <circle cx="573.8" cy="498.1" r="2.2" fill="#f07c84" opacity="0.6"/>
    <circle cx="672.7" cy="525.4" r="1.4" fill="#e05563" opacity="0.6"/>
    <circle cx="608.6" cy="506.1" r="2.3" fill="#ea6670" opacity="0.6"/>
    <circle cx="625.2" cy="514.1" r="2.2" fill="#f59a9e" opacity="0.6"/>
    <circle cx="619.5" cy="513.0" r="2.5" fill="#d94a58" opacity="0.6"/>
    <circle cx="625.0" cy="517.7" r="2.2" fill="#d94a58" opacity="0.6"/>
    <circle cx="527.1" cy="479.3" r="1.7" fill="#d94a58" opacity="0.6"/>
    <circle cx="522.6" cy="477.7" r="2.3" fill="#d94a58" opacity="0.6"/>
    <circle cx="627.1" cy="508.8" r="2.4" fill="#ea6670" opacity="0.6"/>
    <circle cx="583.4" cy="499.9" r="1.9" fill="#d94a58" opacity="0.6"/>
    <circle cx="618.4" cy="515.5" r="2.5" fill="#e05563" opacity="0.6"/>
    <circle cx="638.3" cy="515.7" r="2.0" fill="#f2868c" opacity="0.6"/>
    <circle cx="512.5" cy="474.8" r="1.6" fill="#f59a9e" opacity="0.6"/>
    <circle cx="594.3" cy="498.1" r="2.1" fill="#f07c84" opacity="0.6"/>
    <circle cx="540.8" cy="484.1" r="1.4" fill="#e05563" opacity="0.6"/>
    <circle cx="594.7" cy="501.6" r="2.5" fill="#f59a9e" opacity="0.6"/>
    <circle cx="674.3" cy="523.8" r="2.0" fill="#f2868c" opacity="0.6"/>
    <circle cx="629.9" cy="516.1" r="2.2" fill="#e05563" opacity="0.6"/>
    <circle cx="552.6" cy="487.6" r="1.4" fill="#ea6670" opacity="0.6"/>
    <circle cx="661.6" cy="527.5" r="2.2" fill="#f07c84" opacity="0.6"/>
    <circle cx="551.1" cy="485.8" r="2.3" fill="#f07c84" opacity="0.6"/>
    <circle cx="671.2" cy="537.3" r="2.6" fill="#ea6670" opacity="0.6"/>
    <circle cx="542.0" cy="482.4" r="2.3" fill="#d94a58" opacity="0.6"/>
    <circle cx="538.8" cy="484.4" r="2.3" fill="#f59a9e" opacity="0.6"/>
    <circle cx="566.0" cy="494.0" r="2.4" fill="#ea6670" opacity="0.6"/>
    <circle cx="585.6" cy="497.4" r="2.1" fill="#f59a9e" opacity="0.6"/>
    <circle cx="638.6" cy="517.0" r="2.3" fill="#f59a9e" opacity="0.6"/>
    <circle cx="551.5" cy="487.0" r="1.7" fill="#ea6670" opacity="0.6"/>
    <circle cx="621.4" cy="511.4" r="2.4" fill="#e05563" opacity="0.6"/>
    <circle cx="566.9" cy="494.4" r="1.8" fill="#ea6670" opacity="0.6"/>
    <circle cx="578.8" cy="498.5" r="2.2" fill="#e05563" opacity="0.6"/>
    <circle cx="532.0" cy="480.2" r="1.9" fill="#f2868c" opacity="0.6"/>
    <circle cx="646.7" cy="526.6" r="2.3" fill="#f59a9e" opacity="0.6"/>
    <circle cx="596.2" cy="501.3" r="2.1" fill="#d94a58" opacity="0.6"/>
    <circle cx="508.0" cy="474.5" r="2.2" fill="#e05563" opacity="0.6"/>
    <circle cx="609.4" cy="508.5" r="2.4" fill="#f59a9e" opacity="0.6"/>
    <circle cx="638.0" cy="515.0" r="1.6" fill="#ea6670" opacity="0.6"/>
    <circle cx="640.6" cy="513.1" r="2.5" fill="#f07c84" opacity="0.6"/>
    <circle cx="672.1" cy="521.5" r="2.5" fill="#f07c84" opacity="0.6"/>
    <circle cx="640.0" cy="523.0" r="1.6" fill="#d94a58" opacity="0.6"/>
    <circle cx="542.2" cy="482.1" r="2.4" fill="#d94a58" opacity="0.6"/>
    <circle cx="656.1" cy="524.3" r="1.7" fill="#f59a9e" opacity="0.6"/>
    <circle cx="646.6" cy="519.7" r="2.1" fill="#ea6670" opacity="0.6"/>
    <circle cx="585.4" cy="495.8" r="2.0" fill="#ea6670" opacity="0.6"/>
    <circle cx="534.0" cy="482.5" r="2.3" fill="#f59a9e" opacity="0.6"/>
    <circle cx="648.9" cy="520.5" r="2.1" fill="#d94a58" opacity="0.6"/>
    <circle cx="556.5" cy="489.3" r="1.9" fill="#d94a58" opacity="0.6"/>
    <circle cx="518.8" cy="477.3" r="2.2" fill="#f2868c" opacity="0.6"/>
    <circle cx="509.5" cy="472.2" r="2.3" fill="#e05563" opacity="0.6"/>
    <circle cx="643.5" cy="512.9" r="2.0" fill="#f59a9e" opacity="0.6"/>
    <circle cx="511.8" cy="475.1" r="2.2" fill="#e05563" opacity="0.6"/>
    <circle cx="522.1" cy="478.6" r="1.8" fill="#f07c84" opacity="0.6"/>
    <circle cx="600.2" cy="509.1" r="1.7" fill="#e05563" opacity="0.6"/>
    <circle cx="577.8" cy="497.3" r="2.4" fill="#e05563" opacity="0.6"/>
    <circle cx="566.4" cy="492.9" r="1.8" fill="#e05563" opacity="0.6"/>
    <circle cx="654.4" cy="520.3" r="1.6" fill="#ea6670" opacity="0.6"/>
    <circle cx="640.6" cy="515.6" r="1.8" fill="#e05563" opacity="0.6"/>
    <circle cx="527.7" cy="482.1" r="1.5" fill="#f2868c" opacity="0.6"/>
    <circle cx="573.8" cy="495.9" r="1.9" fill="#f07c84" opacity="0.6"/>
    <circle cx="514.4" cy="474.6" r="1.4" fill="#f59a9e" opacity="0.6"/>
  </g>
  <polygon points="498.6,470.4 656,531 664,614 507,544" fill="#6f7378"/>
  <polygon points="656,531 694,515.5 677,611 664,614" fill="#888a8d"/>
  <path d="M498.6 470.4 L656 531 L694 515.5 M656 531 L664 614" stroke="#4f5256" stroke-width="1" fill="none"/>
</g>

<!-- ============ RIGHT CLAY ============ -->
<g id="rclay">
  <linearGradient id="clayG" gradientUnits="userSpaceOnUse" x1="440" y1="615" x2="458" y2="680">
    <stop offset="0" stop-color="#e9d6c4"/>
    <stop offset="0.6" stop-color="#e6d1be"/>
    <stop offset="1" stop-color="#ddc4ae"/>
  </linearGradient>
  <path d="M313 616 L396 658 L563 589 C568 594 575 604 577 613 C578 618 577 621 573 624 C565 630 556 634 546 638 C536 643 527 648 517 652 C505 658 493 665 481 670 C469 676 456 680 444 684 C436 687 428 689 420 691 C412 694 406 696 402 698 C396 701 391 704 386 706 C377 701 369 696 360 692 C350 686 340 681 330 675 C320 669 310 663 302 658 C295 654 294 646 299 637 C304 628 311 621 319 619 L313 616 Z" fill="url(#clayG)" stroke="#9a8a7c" stroke-width="0.8"/>
</g>

<!-- right clay text -->
<clipPath id="clayClip"><path d="M313 616 L396 658 L563 589 C568 594 575 604 577 613 C578 618 577 621 573 624 C565 630 556 634 546 638 C536 643 527 648 517 652 C505 658 493 665 481 670 C469 676 456 680 444 684 C436 687 428 689 420 691 C412 694 406 696 402 698 C396 701 391 704 386 706 C377 701 369 696 360 692 C350 686 340 681 330 675 C320 669 310 663 302 658 C295 654 294 646 299 637 C304 628 311 621 319 619 L313 616 Z"/></clipPath>
<clipPath id="boxClip"><polygon points="313,569 480,507.5 565.7,543 563,589 396,658 313,616"/></clipPath>
<g fill="none" stroke="#f07490" stroke-width="6" stroke-linecap="butt">
  <g>
    <path d="M342.3 659 C345 650 356 642 372 642.3 C384 643 393 650 395.2 657 M374.8 665.5 L395 657 C410 657 428 662 432 671 C435 679 420 686 388.7 685"/>
    <ellipse cx="461" cy="648" rx="26.5" ry="12" transform="rotate(-9 461 648)"/>
  </g>
  <g clip-path="url(#boxClip)">
    
    <ellipse cx="424" cy="630" rx="24.5" ry="10.5" transform="rotate(-9 424 630)"/>
  </g>
  <path d="M453.7 611 L462 600.5 L527.5 631 M512 639 L546 626"/>
</g>

<!-- ============ BLUE MOLD ============ -->
<g id="blue">
  <linearGradient id="blueTopG" gradientUnits="userSpaceOnUse" x1="180" y1="500" x2="250" y2="620">
    <stop offset="0" stop-color="#afc7e3"/>
    <stop offset="1" stop-color="#a5bfde"/>
  </linearGradient>
  <linearGradient id="blueFrontG" gradientUnits="userSpaceOnUse" x1="290" y1="577" x2="307" y2="624">
    <stop offset="0" stop-color="#87a9d0"/>
    <stop offset="1" stop-color="#7c9fc9"/>
  </linearGradient>
  <!-- top surface -->
  <path d="M14 552 L332 450.5 C336 448 341 449 346 454 C352 460 356 467 362 470 C366 472 371 468 378 467 C383 466 390 474 396 480 C402 486 406 489 410 489 C413 489 415 487 419 487 C426 487 437 496 444 503 C449 509 451 516 451 524 L451 535 L451 562 L126 690 L126.5 652 C126 640 125 630 120 620 C114 610 106 601 99 600 C95 600 92 604 88 602 C80 598 68 580 60 577 C54 575 50 580 44 576 C36 570 26 554 14 552 Z" fill="url(#blueTopG)"/>
  <!-- ridge shading -->
  <g filter="url(#blur2)">
    <path d="M40 572 L360 466" stroke="#93b1d6" stroke-width="6" opacity="0.45"/>
    <path d="M82 597 L403 486" stroke="#93b1d6" stroke-width="6" opacity="0.45"/>
    <path d="M60 578 L380 468" stroke="#c6d9ee" stroke-width="5" opacity="0.6"/>
    <path d="M100 602 L421 489" stroke="#c6d9ee" stroke-width="5" opacity="0.6"/>
  </g>
  <!-- rounded front edge + front face -->
  <linearGradient id="blueShoulderG" gradientUnits="userSpaceOnUse" x1="280" y1="545" x2="290" y2="575">
    <stop offset="0" stop-color="#adc6e3"/>
    <stop offset="1" stop-color="#8badd3"/>
  </linearGradient>
  <path d="M110 608 L432 493 C440 499 446 505 448 510 C451 516 451 514 451 514 L127 634 C126 625 120 615 110 608 Z" fill="url(#blueShoulderG)"/>
  <path d="M127 634 L451 514 L451 562 L126 690 Z" fill="url(#blueFrontG)"/>
  <!-- left end face -->
  <path d="M5 562 Q6 553 14 552 C26 554 36 570 44 576 C50 580 54 575 60 577 C68 580 80 598 88 602 C92 604 95 600 99 600 C106 601 114 610 120 620 C125 630 126 640 126.5 652 L127 688 L5 612 Z" fill="#b4cbe6"/>
  <path d="M14 552 C26 554 36 570 44 576 C50 580 54 575 60 577 C68 580 80 598 88 602 C92 604 95 600 99 600 C106 601 114 610 120 620 C125 630 126 640 126.5 652 L127 688" fill="none" stroke="#6f7f93" stroke-width="1"/>
</g>

<!-- ============ LEFT CLAY ============ -->
<g id="lclay">
  <path d="M121 516 C116 524 112 530 109 539 C110 546 114 550 120 551 C126 552 134 553 140 550 C145 553 148 560 151 568 C155 574 160 576 166 575 L206 564 L268 546 L322 521 L357 512 C357 505 352 498 346 493 L182 546 Z" fill="#cbc3bf" stroke="#8c8480" stroke-width="0.8"/>
</g>


<!-- left clay text -->
<g fill="none" stroke="#ee6888" stroke-width="5" opacity="0.88" stroke-linecap="round">
  <path d="M145 543 C148 535 156 530 166 529 C178 527.5 192 528 200.5 532 M190 534 C200 533 211 535 216 541 C222 548 220 556 211 561 C203 564 190 564 181 563.5"/>
  <path d="M199 525 C204 517 215 513 228 513 C236 513 241 513 244 514"/>
  <ellipse cx="250" cy="531" rx="28" ry="14" transform="rotate(16 250 531)"/>
  <path d="M252 507 L269 500 M281 503.5 L304 527 M294 529 L329 518.5"/>
</g>

<!-- ============ LEFT GHOST ============ -->
<g id="lghost" style="mix-blend-mode:multiply">
  <polygon points="118.7,472.9 280,424.6 346,455 182.2,503.8" fill="#dadada"/>
  <polygon points="118.7,472.9 182.2,503.8 182,546 119,515" fill="#e2e2e2"/>
  <polygon points="182.2,503.8 346,455 346,493 182,546" fill="#c9c9c9"/>
  <path d="M208.3 390.6 L208.3 454.6 L256.3 454.6 L256.3 390.6 Z" fill="url(#gcylG)"/>
  <ellipse cx="232.3" cy="455" rx="32" ry="9" fill="#d4d4d4" filter="url(#blur3)"/>
  <ellipse cx="232.3" cy="390.6" rx="24" ry="8" fill="#d0d0d0"/>
</g>
<g id="lghostlines" fill="none" stroke="#6a6a6a" stroke-width="0.9">
  <path d="M208.3 446.1 L118.7 472.9 M256.3 431.8 L280 424.6 L346 455 L182.2 503.8 L118.7 472.9"/>
  <path d="M118.7 472.9 L119 515 L182 546 L346 493 L346 455 M182.2 503.8 L182 546"/>
  <ellipse cx="232.3" cy="390.6" rx="24" ry="8"/>
  <path d="M208.3 390.6 L208.3 452 M256.3 390.6 L256.3 452" stroke="#8a8a8a"/>
</g>

<!-- ============ RIGHT GHOST BOX ============ -->
<g id="rghost" style="mix-blend-mode:multiply">
  <polygon points="313,569 480,507.5 565.7,543 396.4,610.4" fill="#e6e6e6"/>
  <polygon points="313,569 396.4,610.4 396,658 313,616" fill="#dedede"/>
  <polygon points="396.4,610.4 565.7,543 563,589 396,658" fill="#d8d8d8"/>
</g>
<g id="rghostlines" fill="none" stroke="#555" stroke-width="0.9">
  <polygon points="313,569 480,507.5 565.7,543 396.4,610.4"/>
  <path d="M313 569 L313 616 L396 658 L563 589 L565.7 543 M396.4 610.4 L396 658"/>
</g>

<!-- ============ RIGHT GHOST CYLINDER ============ -->
<clipPath id="rcylClip"><polygon points="400,440 530,440 530,531.5 451,562 400,581.7"/></clipPath>
<g id="rcyl" clip-path="url(#rcylClip)">
  <linearGradient id="rcylG" x1="0" x2="1" y1="0" y2="0">
    <stop offset="0" stop-color="#c4c4c4"/>
    <stop offset="0.45" stop-color="#d8d8d8"/>
    <stop offset="1" stop-color="#bdbdbd"/>
  </linearGradient>
  <rect x="415" y="475.4" width="55.7" height="100" fill="url(#rcylG)" opacity="0.6"/>
  <ellipse cx="442.8" cy="475.4" rx="27.8" ry="10.3" fill="#d2d2d2" stroke="#8a8a8a" stroke-width="1"/>
  <path d="M415 475.4 L415 547 M470.7 475.4 L470.7 560" stroke="#8a8a8a" stroke-width="1" fill="none"/>
</g>

<!-- ============ OUTLINES ============ -->
<path d="M14 551.5 L332 450.5 C336 448 341 449 346 454 C352 460 356 467 362 470 C366 472 371 468 378 467 C383 466 390 474 396 480 C402 486 406 489 410 489 C413 489 415 487 419 487 C426 487 437 496 444 503 C449 509 451 516 451 524 L451 535 L451 562" fill="none" stroke="#000" stroke-width="4" stroke-linejoin="round" stroke-linecap="round"/>
<path d="M14 551.5 Q5 553 5.5 562 L5.5 612 L126 689 L451 562" fill="none" stroke="#000" stroke-width="5" stroke-linejoin="round" stroke-linecap="round"/>
<path d="M451 562 L508 540 L495 469 L538 454 L698.5 514 L678.5 610 L678 666 L344 830 L183 730 L183 668" fill="none" stroke="#000" stroke-width="5" stroke-linejoin="round"/>
<!-- labels 1, 2 -->
<line x1="538.6" y1="397" x2="546.7" y2="479" stroke="#111" stroke-width="1.6"/>
<circle cx="547" cy="479.3" r="3.8" fill="#000"/>
<circle cx="536.4" cy="372" r="24.5" fill="#fff" stroke="#333" stroke-width="2"/>
<text x="536.4" y="384" text-anchor="middle" font-family="Liberation Sans" font-weight="bold" font-size="33" fill="#000">2</text>
<line x1="624.3" y1="461" x2="640" y2="617.6" stroke="#111" stroke-width="1.6"/>
<circle cx="640" cy="617.6" r="4" fill="#000"/>
<circle cx="621.8" cy="436.4" r="24.5" fill="#fff" stroke="#333" stroke-width="2"/>
<text x="621.8" y="447.5" text-anchor="middle" font-family="Liberation Sans" font-weight="bold" font-size="33" fill="#000">1</text>

<!-- ============ LOGO ============ -->
<g transform="translate(382,836) scale(0.08)">
  <polygon points="140,215 235,155 335,215 240,275" fill="#bdbdbd"/>
  <polygon points="140,215 240,275 240,380 140,320" fill="#7a7a7a"/>
  <polygon points="240,275 335,215 335,320 240,380" fill="#1e1e1e"/>
  <polygon points="335,215 430,160 530,215 435,275" fill="#bdbdbd"/>
  <polygon points="335,215 435,275 435,380 335,320" fill="#7a7a7a"/>
  <polygon points="435,275 530,215 530,320 435,380" fill="#1e1e1e"/>
  <polygon points="340,95 430,40 430,155 340,205" fill="#1e1e1e"/>
  <polygon points="530,215 625,275 625,380 530,320" fill="#7a7a7a"/>
  <polygon points="435,380 530,320 625,380 530,440" fill="#bdbdbd"/>
  <polygon points="440,400 530,440 530,555 440,500" fill="#7a7a7a"/>
  <polygon points="40,390 140,330 240,380 140,445" fill="#bdbdbd"/>
</g>
<text x="444" y="868.8" font-family="Liberation Sans" font-weight="bold" font-size="23.7" fill="#111" stroke="#111" stroke-width="1.1" textLength="184" lengthAdjust="spacingAndGlyphs">MANUFACTURING</text>
<text x="628.5" y="868.8" font-family="Liberation Sans" font-size="23.7" fill="#111" textLength="69" lengthAdjust="spacingAndGlyphs">GUIDE</text>

</svg>
</body></html>
